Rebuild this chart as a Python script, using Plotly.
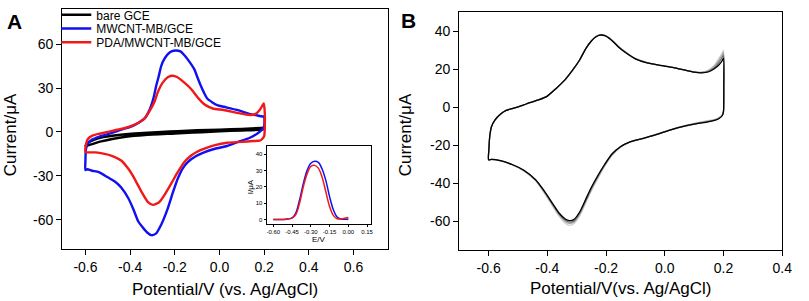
import plotly.graph_objects as go

# ---------------- Panel A: CV data ----------------
bare_x = [-0.600, -0.590, -0.560, -0.520, -0.480, -0.420, -0.340, -0.260, -0.187, -0.100, 0.000, 0.100, 0.188, 0.200,
          0.200, 0.190, 0.100, 0.000, -0.040, -0.120, -0.200, -0.334, -0.420, -0.480, -0.530, -0.570, -0.585, -0.600]
bare_y = [-9.5, -7.5, -5.2, -3.6, -2.6, -1.6, -0.7, 0, 0.5, 1.1, 1.6, 2.1, 2.7, 2.8,
          2, 1.6, 1, 0.4, 0.1, -0.5, -1.1, -2.1, -3.3, -4.8, -6.5, -8.3, -9.0, -9.5]

mb_x = [-0.600, -0.600, -0.598, -0.590, -0.570, -0.540, -0.510, -0.482, -0.440, -0.393, -0.360, -0.334, -0.318,
        -0.305, -0.294, -0.283, -0.272, -0.261, -0.248, -0.232, -0.215, -0.195, -0.175, -0.155, -0.135, -0.113,
        -0.098, -0.084, -0.070, -0.055, -0.035, -0.011, 0.030, 0.078, 0.130, 0.170, 0.196,
        0.200, 0.200, 0.190, 0.170, 0.136, 0.080, 0.034, -0.020, -0.069, -0.110, -0.143, -0.165, -0.187, -0.210,
        -0.231, -0.260, -0.285, -0.305, -0.325, -0.345, -0.364, -0.385, -0.408, -0.440, -0.467, -0.500, -0.540,
        -0.570, -0.592, -0.600]
mb_y = [-26, -19, -12, -8, -5.2, -3.3, -2, -0.7, 1.5, 3.8, 6.5, 9.4, 13.5,
        18.3, 24, 31.7, 38, 45, 49.5, 53, 55, 55.6, 55, 52, 48, 42.9,
        37, 31.7, 27, 22.8, 20.5, 18.3, 16.8, 15, 12.5, 11.2, 10.5,
        10.5, 4, 1.5, -1, -4, -7, -9.6, -11.5, -14, -17, -20.8, -25, -32, -42,
        -52, -63, -69.5, -70.5, -68.5, -65, -61, -53, -45.3, -38, -34, -31, -27.5,
        -26.5, -25.5, -26]

pda_x = [-0.600, -0.598, -0.590, -0.571, -0.540, -0.500, -0.460, -0.422, -0.380, -0.350, -0.334, -0.310, -0.290,
         -0.276, -0.255, -0.230, -0.209, -0.190, -0.160, -0.128, -0.100, -0.080, -0.062, -0.030, 0.019, 0.080,
         0.136, 0.160, 0.180, 0.192, 0.198,
         0.202, 0.203, 0.200, 0.190, 0.180, 0.151, 0.100, 0.034, -0.020, -0.055, -0.100, -0.128, -0.160, -0.187,
         -0.215, -0.246, -0.270, -0.298, -0.320, -0.349, -0.380, -0.408, -0.440, -0.482, -0.520, -0.555, -0.600]
pda_y = [-13.6, -9, -5, -2.7, -1.3, 0, 1.5, 2.7, 5, 7.5, 9.4, 15, 21,
         27.2, 33.5, 37.5, 38.4, 37.5, 34, 29.5, 24, 20.5, 18.3, 16, 15, 13,
         11.6, 12.2, 15, 18, 19.4,
         15, 5, -2.9, -5, -6, -6.2, -6.8, -7.4, -9, -10.7, -13.5, -16.3, -21, -27.5,
         -35, -43, -48, -49.8, -48, -40.9, -32, -25.2, -19.5, -16.3, -14.8, -14, -13.6]

# ---------------- Inset: DPV data ----------------
dpv_x = [-0.60, -0.50, -0.45, -0.42, -0.39, -0.36, -0.33, -0.30, -0.27, -0.24, -0.21, -0.18, -0.15, -0.12,
         -0.09, -0.06, -0.03, -0.01, 0.00]
dpv_mb = [0, 0.2, 1, 4, 12, 22, 30, 34.5, 35.7, 35, 31, 24, 14, 6, 1.5, 0.3, 0.2, 0.1, 0]
dpv_pda = [0, 0.2, 0.8, 3, 10, 20, 28, 32.5, 33.2, 31.5, 26, 17, 8, 2.5, 0.5, 0.3, 0.8, 1.2, 0.5]

# ---------------- Panel B: repeated CV cycles ----------------
cyc_x = [-0.600, -0.599, -0.596, -0.590, -0.578, -0.560, -0.540, -0.517, -0.490, -0.460, -0.430, -0.400, -0.370,
         -0.340, -0.314, -0.290, -0.269, -0.250, -0.235, -0.220, -0.205, -0.190, -0.175, -0.156, -0.130, -0.100,
         -0.060, -0.020, 0.030, 0.070, 0.100, 0.125, 0.150, 0.170, 0.185, 0.195, 0.200,
         0.201, 0.200, 0.196, 0.185, 0.170, 0.140, 0.100, 0.050, 0.000, -0.040, -0.080, -0.120, -0.150, -0.180,
         -0.205, -0.225, -0.250, -0.270, -0.290, -0.310, -0.325, -0.340, -0.360, -0.380, -0.410, -0.440, -0.480,
         -0.520, -0.560, -0.590, -0.600]
cyc1_y = [-27.5, -22, -15, -10, -6.5, -3.5, -1.5, -0.5, 0.8, 2.5, 4, 6, 10,
          14.5, 19.6, 25, 31, 35, 37.4, 38.4, 38.1, 36.8, 34.8, 31.9, 28.8, 25.8,
          23.6, 22.3, 21, 19.6, 18.8, 18.6, 19.8, 22.5, 26, 28.5, 30,
          12, -2, -3.8, -5.2, -6.2, -7, -8.3, -10.2, -12.6, -14.6, -16.5, -18.3, -20.9, -25.3,
          -31, -36.5, -43.8, -50.5, -57, -61.2, -62, -60.8, -57.2, -52.5, -45, -38.6, -33.4,
          -30.2, -28.1, -27.4, -27.5]
cyc2_y = [-27.5, -22, -15, -10, -6.5, -3.5, -1.5, -0.5, 0.8, 2.5, 4, 6, 10,
          14.5, 19.6, 25, 31, 35, 37.3, 38.3, 38, 36.7, 34.7, 31.8, 28.7, 25.7,
          23.6, 22.3, 21, 19.6, 18.7, 18.4, 19.4, 21.8, 25, 27.5, 29,
          11, -2, -4, -5.5, -6.5, -7.4, -8.5, -10.4, -12.7, -14.7, -16.5, -18.2, -20.7, -25,
          -30.6, -36, -43.2, -49.8, -56.3, -60.4, -61, -59.8, -56.5, -51.8, -44.6, -38.3, -33.2,
          -30.1, -28, -27.3, -27.5]
cyc3_y = [-27.5, -22, -15, -10, -6.5, -3.5, -1.5, -0.5, 0.8, 2.5, 4, 6, 10,
          14.5, 19.6, 25, 31, 35, 37.2, 38.2, 37.9, 36.6, 34.6, 31.7, 28.6, 25.6,
          23.5, 22.3, 21, 19.6, 18.6, 18.3, 19, 21, 23.8, 26.3, 27.5,
          10.5, -2, -4.1, -5.7, -6.7, -7.6, -8.7, -10.5, -12.8, -14.8, -16.5, -18.2, -20.6, -24.7,
          -30.3, -35.5, -42.6, -49.2, -55.6, -59.8, -60.3, -59.2, -56, -51.4, -44.3, -38.1, -33.1,
          -30, -28, -27.3, -27.5]
cyc4_y = [-27.5, -22, -15, -10, -6.5, -3.5, -1.5, -0.5, 0.8, 2.5, 4, 6, 10,
          14.5, 19.6, 25, 31, 35, 37.1, 38.1, 37.8, 36.5, 34.5, 31.6, 28.5, 25.6,
          23.5, 22.3, 21, 19.6, 18.6, 18.2, 18.8, 20.5, 22.5, 24.5, 26,
          10, -2, -4.2, -5.8, -6.8, -7.8, -8.8, -10.5, -12.8, -14.8, -16.5, -18.2, -20.5, -24.5,
          -30, -35, -42, -48.5, -55, -59, -59.5, -58.5, -55.5, -51, -44, -38, -33,
          -30, -28, -27.3, -27.5]
cycles_y = [cyc1_y, cyc2_y, cyc3_y, cyc4_y]
cycle_colors = ["#cfcfcf", "#a8a8a8", "#6e6e6e", "#000000"]

# ---------------- Tick labels ----------------
a_xticks = [-0.6, -0.4, -0.2, 0.0, 0.2, 0.4, 0.6]
a_xtext = ["-0.6", "-0.4", "-0.2", "0.0", "0.2", "0.4", "0.6"]
a_yticks = [-60, -30, 0, 30, 60]
a_ytext = ["-60", "-30", "0", "30", "60"]
in_xticks = [-0.60, -0.45, -0.30, -0.15, 0.00, 0.15]
in_xtext = ["-0.60", "-0.45", "-0.30", "-0.15", "0.00", "0.15"]
in_yticks = [0, 10, 20, 30, 40]
in_ytext = ["0", "10", "20", "30", "40"]
b_xticks = [-0.6, -0.4, -0.2, 0.0, 0.2, 0.4]
b_xtext = ["-0.6", "-0.4", "-0.2", "0.0", "0.2", "0.4"]
b_yticks = [-60, -40, -20, 0, 20, 40]
b_ytext = ["-60", "-40", "-20", "0", "20", "40"]

W, H = 809, 301
FONT = "Liberation Sans, Arial, sans-serif"


def px(xp):
    return xp / W


def py(yp):
    return 1 - yp / H


def dx(a, b):
    return [px(a), px(b)]


def dy(top, bottom):
    return [py(bottom), py(top)]


fig = go.Figure()

SMOOTH = 0.6
# Panel A traces (each in its own legend row)
fig.add_trace(go.Scatter(x=bare_x, y=bare_y, mode="lines", name="bare GCE", legend="legend",
                         line=dict(color="#000000", width=2.4, shape="spline", smoothing=SMOOTH),
                         xaxis="x", yaxis="y"))
fig.add_trace(go.Scatter(x=mb_x, y=mb_y, mode="lines", name="MWCNT-MB/GCE", legend="legend2",
                         line=dict(color="#1010f0", width=2.4, shape="spline", smoothing=SMOOTH),
                         xaxis="x", yaxis="y"))
fig.add_trace(go.Scatter(x=pda_x, y=pda_y, mode="lines", name="PDA/MWCNT-MB/GCE", legend="legend3",
                         line=dict(color="#f01818", width=2.4, shape="spline", smoothing=SMOOTH),
                         xaxis="x", yaxis="y"))

# Inset traces
fig.add_trace(go.Scatter(x=dpv_x, y=dpv_mb, mode="lines", showlegend=False,
                         line=dict(color="#1010f0", width=1.5, shape="spline"), xaxis="x2", yaxis="y2"))
fig.add_trace(go.Scatter(x=dpv_x, y=dpv_pda, mode="lines", showlegend=False,
                         line=dict(color="#f01818", width=1.5, shape="spline"), xaxis="x2", yaxis="y2"))

# Panel B traces
for ys, col in zip(cycles_y, cycle_colors):
    fig.add_trace(go.Scatter(x=cyc_x, y=ys, mode="lines", showlegend=False,
                             line=dict(color=col, width=1.3, shape="spline", smoothing=SMOOTH),
                             xaxis="x3", yaxis="y3"))

axis_common = dict(showline=True, linecolor="black", linewidth=1.4, mirror=True, ticks="outside",
                   ticklen=5, tickwidth=1.4, tickcolor="black", showgrid=False, zeroline=False,
                   tickfont=dict(family=FONT, size=14, color="black"))
inset_common = dict(showline=True, linecolor="black", linewidth=1, mirror=True, ticks="outside",
                    ticklen=2, tickwidth=0.8, tickcolor="black", showgrid=False, zeroline=False,
                    tickfont=dict(family=FONT, size=6, color="black"))

legend_common = dict(xanchor="left", yanchor="middle", bgcolor="rgba(0,0,0,0)", borderwidth=0,
                     font=dict(family=FONT, size=12, color="black"))

fig.update_layout(
    width=W, height=H,
    margin=dict(l=0, r=0, t=0, b=0),
    paper_bgcolor="white", plot_bgcolor="white",
    font=dict(family=FONT, color="black"),
    xaxis=dict(axis_common, domain=dx(63, 393), range=[-0.704, 0.755],
               tickvals=a_xticks, ticktext=a_xtext, anchor="y"),
    yaxis=dict(axis_common, domain=dy(3, 248), range=[-80, 84],
               tickvals=a_yticks, ticktext=a_ytext, anchor="x"),
    xaxis2=dict(inset_common, domain=dx(270, 376), range=[-0.653, 0.184],
                tickvals=in_xticks, ticktext=in_xtext, anchor="y2"),
    yaxis2=dict(inset_common, domain=dy(143, 222), range=[-2.5, 45],
                tickvals=in_yticks, ticktext=in_ytext, anchor="x2"),
    xaxis3=dict(axis_common, domain=dx(465, 792), range=[-0.7, 0.4],
                tickvals=b_xticks, ticktext=b_xtext, anchor="y3"),
    yaxis3=dict(axis_common, domain=dy(6, 249), range=[-75, 50.3],
                tickvals=b_yticks, ticktext=b_ytext, anchor="x3"),
    legend=dict(legend_common, x=px(57), y=py(9)),
    legend2=dict(legend_common, x=px(57), y=py(23)),
    legend3=dict(legend_common, x=px(57), y=py(37)),
    showlegend=True,
)

ann = [
    dict(text="<b>A</b>", x=px(14.5), y=py(15.5), font=dict(size=21)),
    dict(text="<b>B</b>", x=px(414), y=py(15), font=dict(size=21)),
    dict(text="Potential/V (vs. Ag/AgCl)", x=px(228), y=py(289), font=dict(size=17)),
    dict(text="Current/μA", x=px(11), y=py(131), font=dict(size=17), textangle=-90),
    dict(text="Potential/V(vs. Ag/AgCl)", x=px(628), y=py(288), font=dict(size=17)),
    dict(text="Current/μA", x=px(410), y=py(131), font=dict(size=17), textangle=-90),
    dict(text="E/V", x=px(323), y=py(238), font=dict(size=8)),
    dict(text="I/μA", x=px(253), y=py(184), font=dict(size=8), textangle=-90),
]
for a in ann:
    a.update(xref="paper", yref="paper", showarrow=False, xanchor="center", yanchor="middle")
    a["font"].update(family=FONT, color="black")
fig.update_layout(annotations=ann)

# The page body has a default 8px margin; remove it so the figure fills the window.
fig.write_html("out.html", config={"displayModeBar": False},
               post_script="document.body.style.margin='0px';")
